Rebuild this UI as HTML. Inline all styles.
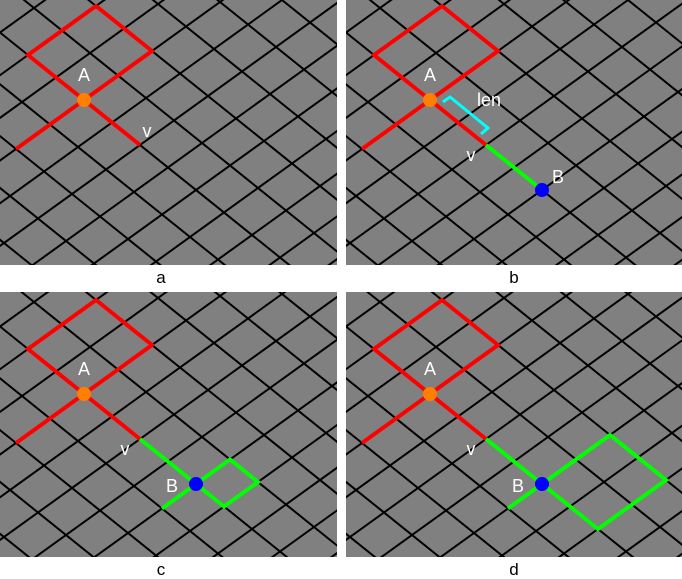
<!DOCTYPE html>
<html><head><meta charset="utf-8"><style>
html,body{margin:0;padding:0;background:#fff;width:682px;height:579px;overflow:hidden;}
svg{display:block;font-family:"Liberation Sans",sans-serif;}
</style></head><body>
<svg id="fig" width="682" height="579" viewBox="0 0 682 579">
<defs>
<clipPath id="c0"><rect x="0" y="0" width="337" height="265"/></clipPath>
<clipPath id="c1"><rect x="346" y="0" width="336" height="265"/></clipPath>
<clipPath id="c2"><rect x="0" y="292" width="337" height="265"/></clipPath>
<clipPath id="c3"><rect x="346" y="292" width="336" height="265"/></clipPath>
</defs>
</svg>
<script>
// panel definitions
const panelIds = ['a','b','c','d'];
const panelX = [0,346,0,346];
const panelY = [0,0,292,292];
const contentY = [0,0,294,294];
const stage = [0,1,2,3]; // 0: A only, 1: +B, 2: small green, 3: big green
const NS='http://www.w3.org/2000/svg';
const svg=document.getElementById('fig');
const p=[34,-24.5], q=[28,22.5], A0=[84,100];
function mk(tag,attrs,parent){const e=document.createElementNS(NS,tag);for(const k in attrs)e.setAttribute(k,attrs[k]);(parent||svg).appendChild(e);return e;}
function pt(ox,oy,a,b,base){return [base[0]+a*p[0]+b*q[0]+ox, base[1]+a*p[1]+b*q[1]+oy];}
function poly(g,pts,color,name){const e=mk('polyline',{points:pts.map(v=>v.join(',')).join(' '),fill:'none',stroke:color,'stroke-width':4,'stroke-linejoin':'miter'},g);


return e;}
function txt(g,x,y,s,size,fill,name){const t=mk('text',{x:x,y:y,'font-size':size,fill:fill,'text-anchor':'middle'},g);t.textContent=s;


return t;}
for(let i=0;i<4;i++){
  const ox=panelX[i], oy=contentY[i];
  const g=mk('g',{'clip-path':'url(#c'+i+')'});
  
  
  const bg=mk('rect',{x:ox,y:panelY[i],width:(i%2?336:337),height:265,fill:'#808080'},g);
  
  
  for(let k=-14;k<=14;k++){
    const a1=pt(ox,oy,-14,k,A0), a2=pt(ox,oy,14,k,A0);
    const l1=mk('line',{x1:a1[0],y1:a1[1],x2:a2[0],y2:a2[1],stroke:'#000','stroke-width':2},g);
    
    
    const b1=pt(ox,oy,k,-14,A0), b2=pt(ox,oy,k,14,A0);
    const l2=mk('line',{x1:b1[0],y1:b1[1],x2:b2[0],y2:b2[1],stroke:'#000','stroke-width':2},g);
    
    
  }
  const R='#ff0000',G='#00ff00';
  const P=(a,b)=>pt(ox,oy,a,b,A0);
  poly(g,[P(0,0),P(2,0),P(2,-2),P(0,-2),P(0,0)],R,'red-cell-diamond');
  poly(g,[P(-2,0),P(0,0),P(0,2)],R,'red-axis-lines');
  const s=stage[i];
  if(s>=1){
    poly(g,[P(0,2),P(0,4)],G,'green-step-v');
    if(s==2){poly(g,[P(-1,4),P(0,4)],G,'green-tail');poly(g,[P(0,4),P(1,4),P(1,5),P(0,5),P(0,4)],G,'green-small-diamond');}
    if(s==3){poly(g,[P(-1,4),P(0,4)],G,'green-tail');poly(g,[P(0,4),P(2,4),P(2,6),P(0,6),P(0,4)],G,'green-big-diamond');}
    const B=P(0,4);
    const bd=mk('circle',{cx:B[0],cy:B[1],r:7,fill:'#0000ff'},g);
    
    
    if(s==1) txt(g,B[0]+16,B[1]-7,'B',18,'#fff','label-b');
    else txt(g,B[0]-24,B[1]+8,'B',18,'#fff','label-b');
  }
  if(s==1){
    const c=mk('polyline',{points:[[ox+97,oy+102],[ox+104,oy+97],[ox+142,oy+128],[ox+135,oy+134]].map(v=>v.join(',')).join(' '),fill:'none',stroke:'#00ffff','stroke-width':3},g);
    
    
    txt(g,ox+143,oy+106,'len',18,'#fff','label-len');
  }
  const Ap=P(0,0);
  const ad=mk('circle',{cx:Ap[0],cy:Ap[1],r:7,fill:'#ff8000'},g);
  
  
  txt(g,Ap[0],Ap[1]-19,'A',18,'#fff','label-a');
  if(s==0) txt(g,ox+147,oy+137,'v',18,'#fff','label-v');
  else txt(g,ox+125,oy+161,'v',18,'#fff','label-v');
  txt(svg,ox+(i%2?168:161),panelY[i]+283,panelIds[i],17,'#000','caption-'+panelIds[i]);
}
</script>
</body></html>
